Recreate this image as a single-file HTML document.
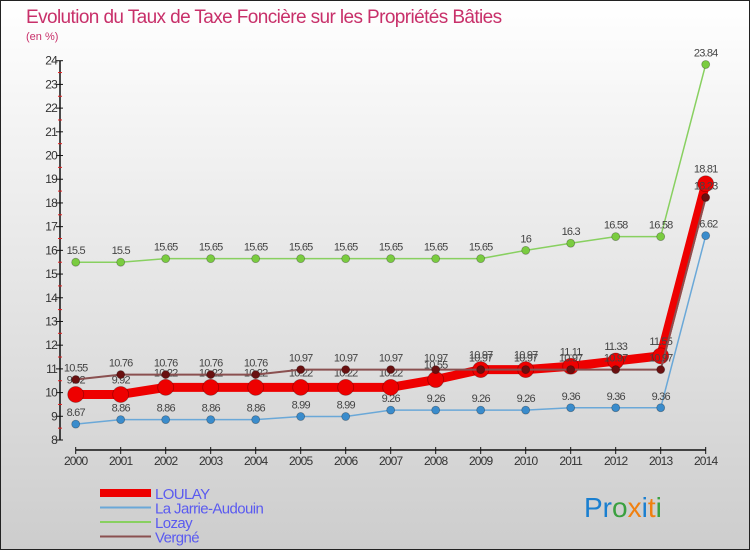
<!DOCTYPE html>
<html><head><meta charset="utf-8"><style>
body{margin:0}
#c{position:relative;width:750px;height:550px;overflow:hidden;font-family:"Liberation Sans",sans-serif}
svg text{font-family:"Liberation Sans",sans-serif}
</style></head><body>
<div id="c">
<svg id="s" width="750" height="550" xmlns="http://www.w3.org/2000/svg">
<defs><linearGradient id="bg" x1="0" y1="0" x2="0" y2="1"><stop offset="0" stop-color="#ffffff"/><stop offset="1" stop-color="#cdcdcd"/></linearGradient></defs>
<rect x="0.5" y="0.5" width="749" height="549" fill="url(#bg)" stroke="#222"/>
<text x="26" y="23" font-size="19" fill="#c8306a" letter-spacing="-0.6">Evolution du Taux de Taxe Foncière sur les Propriétés Bâties</text>
<text x="26" y="40" font-size="11" fill="#c8306a">(en %)</text>
<g id="axes"></g><g id="series"></g><g id="legend"></g>
<text x="584" y="517" font-size="28" font-family="Liberation Sans"><tspan fill="#1a7fd0">Pr</tspan><tspan fill="#3aa040">o</tspan><tspan fill="#f08010">x</tspan><tspan fill="#1a7fd0">i</tspan><tspan fill="#f08010">t</tspan><tspan fill="#3aa040">i</tspan></text>
</svg></div>
<script>
const years=[2000,2001,2002,2003,2004,2005,2006,2007,2008,2009,2010,2011,2012,2013,2014];
const loulay=[9.92,9.92,10.22,10.22,10.22,10.22,10.22,10.22,10.55,10.97,10.97,11.11,11.33,11.55,18.81];
const jarrie=[8.67,8.86,8.86,8.86,8.86,8.99,8.99,9.26,9.26,9.26,9.26,9.36,9.36,9.36,16.62];
const lozay=[15.5,15.5,15.65,15.65,15.65,15.65,15.65,15.65,15.65,15.65,16,16.3,16.58,16.58,23.84];
const vergne=[10.55,10.76,10.76,10.76,10.76,10.97,10.97,10.97,10.97,10.97,10.97,10.97,10.97,10.97,18.23];
const yTicks=[8,9,10,11,12,13,14,15,16,17,18,19,20,21,22,23,24];
const NS="http://www.w3.org/2000/svg";
const X=i=>75.7+i*45.0;
const Y=v=>440-(v-8)*(379.3/16);
function mk(t,a,p){const e=document.createElementNS(NS,t);for(const k in a)e.setAttribute(k,a[k]);(p||document.getElementById('axes')).appendChild(e);return e;}
const ax=document.getElementById('axes');
let e=mk('line',{x1:60,y1:Y(24),x2:60,y2:440,stroke:'#111','stroke-width':1.5});


e=mk('line',{x1:X(0),y1:450,x2:X(14),y2:450,stroke:'#111','stroke-width':1.5});


yTicks.forEach(v=>{
 mk('line',{x1:56,x2:63,y1:Y(v),y2:Y(v),stroke:'#111'});
 if(v<24)mk('line',{x1:58,x2:62,y1:Y(v+0.5),y2:Y(v+0.5),stroke:'#e02020'});
 const t=mk('text',{x:57,y:Y(v)+4,'font-size':12,fill:'#333','text-anchor':'end','letter-spacing':'-0.8'});t.textContent=v;
 
 
});
years.forEach((y,i)=>{
 mk('line',{x1:X(i),x2:X(i),y1:447,y2:454,stroke:'#111'});
 const t=mk('text',{x:X(i),y:465,'font-size':12,fill:'#333','text-anchor':'middle','letter-spacing':'-0.8'});t.textContent=y;
 
 
});
const sg=document.getElementById('series');
function series(name,vals,color,w,r,ptColor){
 const g=mk('g',{},sg);
 
 
 mk('polyline',{points:vals.map((v,i)=>X(i)+','+Y(v)).join(' '),fill:'none',stroke:color,'stroke-width':w,'stroke-linejoin':'round'},g);
 vals.forEach((v,i)=>{
  const c=mk('circle',{cx:X(i),cy:Y(v),r:r,fill:ptColor,stroke:'rgba(0,0,0,0.3)','stroke-width':0.8},g);
  
  
  const t=mk('text',{x:X(i),y:Y(v)-8-(r>6?3:0),'font-size':11,fill:'#444','text-anchor':'middle','letter-spacing':'-0.8'},g);
  t.textContent=v;
  
  
 });
}
series('lozay',lozay,'#88d060',1.5,4,'#7acc40');
series('jarrie',jarrie,'#6aa8d8',1.5,4,'#3a8ccc');
series('loulay',loulay,'#ee0000',9,8,'#ee0000');
series('vergne',vergne,'#8a5050',2,4,'#6a1010');
const lg=document.getElementById('legend');
[['LOULAY','#ee0000',8],['La Jarrie-Audouin','#6aa8d8',2],['Lozay','#88d060',2],['Vergné','#8a5050',2]].forEach((d,i)=>{
 const y=493+i*14.5;
 const g=mk('g',{},lg);
 
 
 mk('line',{x1:100,x2:151,y1:y,y2:y,stroke:d[1],'stroke-width':d[2]},g);
 const t=mk('text',{x:155,y:y+6,'font-size':15,fill:'#5a5af0','letter-spacing':'-0.6'},g);t.textContent=d[0];
});
</script>
</body></html>
